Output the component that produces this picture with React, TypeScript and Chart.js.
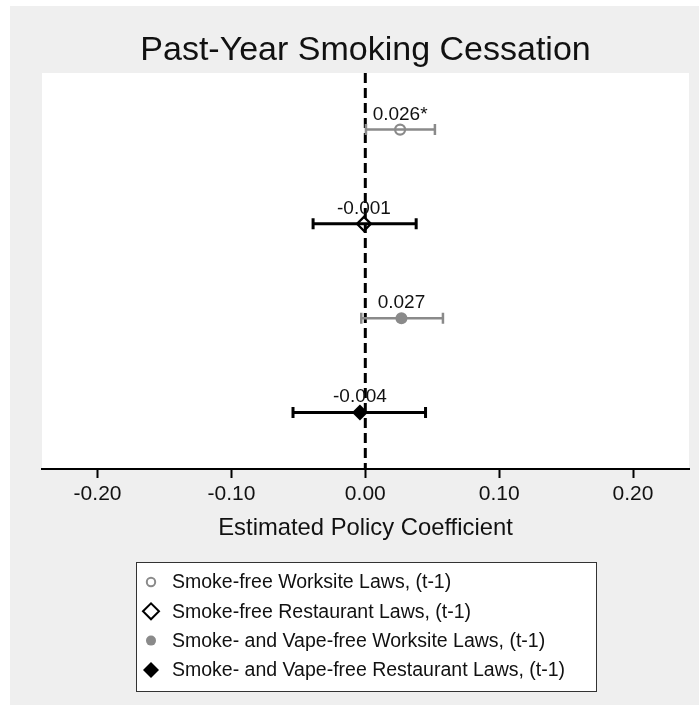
import { useEffect, useRef } from "react";
import { Chart, registerables } from "chart.js";

Chart.register(...registerables);

const TITLE = "Past-Year Smoking Cessation";
const X_TITLE = "Estimated Policy Coefficient";
const SERIES = [
  "Smoke-free Worksite Laws, (t-1)",
  "Smoke-free Restaurant Laws, (t-1)",
  "Smoke- and Vape-free Worksite Laws, (t-1)",
  "Smoke- and Vape-free Restaurant Laws, (t-1)",
];
const ROWS = [1, 2, 3, 4];
const ESTIMATES = [0.026, -0.001, 0.027, -0.004];
const CI_LOW = [0.0005, -0.039, -0.003, -0.054];
const CI_HIGH = [0.052, 0.038, 0.058, 0.045];
const POINT_LABELS = ["0.026*", "-0.001", "0.027", "-0.004"];
const X_TICKS = [-0.2, -0.1, 0, 0.1, 0.2];

const GRAY = "#8a8a8a";
const COLORS = [GRAY, "#000000", GRAY, "#000000"];
const SHAPES = ["circle", "rectRot", "circle", "rectRot"];
const FILLED = [false, false, true, true];
const RADII = [5, 7, 6, 8];
const FONT = "'Liberation Sans', Arial, Helvetica, sans-serif";

function drawMarker(ctx: CanvasRenderingContext2D, i: number, x: number, y: number, r: number) {
  ctx.save();
  ctx.beginPath();
  if (SHAPES[i] === "circle") {
    ctx.arc(x, y, r, 0, Math.PI * 2);
  } else {
    ctx.moveTo(x - r, y);
    ctx.lineTo(x, y - r);
    ctx.lineTo(x + r, y);
    ctx.lineTo(x, y + r);
    ctx.closePath();
  }
  if (FILLED[i]) {
    ctx.fillStyle = COLORS[i];
    ctx.fill();
  } else {
    ctx.lineWidth = 2;
    ctx.strokeStyle = COLORS[i];
    ctx.stroke();
  }
  ctx.restore();
}

const coefPlugin = {
  id: "coefPlugin",
  beforeDraw(chart: any) {
    const { ctx, chartArea } = chart;
    ctx.save();
    ctx.fillStyle = "#ffffff";
    ctx.fillRect(chartArea.left, chartArea.top, chartArea.right - chartArea.left, chartArea.bottom - chartArea.top);
    ctx.restore();
  },
  beforeDatasetsDraw(chart: any) {
    const { ctx, chartArea, scales } = chart;
    const xs = scales.x;
    const ys = scales.y;
    const x0 = xs.getPixelForValue(0);
    ctx.save();
    ctx.strokeStyle = "#000";
    ctx.lineWidth = 3;
    ctx.setLineDash([10, 5]);
    ctx.beginPath();
    ctx.moveTo(x0, chartArea.top);
    ctx.lineTo(x0, chartArea.bottom);
    ctx.stroke();
    ctx.setLineDash([]);
    ROWS.forEach((row, i) => {
      const y = ys.getPixelForValue(row);
      const xl = xs.getPixelForValue(CI_LOW[i]);
      const xh = xs.getPixelForValue(CI_HIGH[i]);
      ctx.strokeStyle = COLORS[i];
      ctx.lineWidth = COLORS[i] === GRAY ? 2.5 : 3;
      ctx.beginPath();
      ctx.moveTo(xl, y);
      ctx.lineTo(xh, y);
      ctx.moveTo(xl, y - 5.5);
      ctx.lineTo(xl, y + 5.5);
      ctx.moveTo(xh, y - 5.5);
      ctx.lineTo(xh, y + 5.5);
      ctx.stroke();
    });
    ctx.restore();
  },
  afterDatasetsDraw(chart: any) {
    const { ctx, scales } = chart;
    ctx.save();
    ctx.fillStyle = "#111";
    ctx.font = `19px ${FONT}`;
    ctx.textAlign = "center";
    ctx.textBaseline = "alphabetic";
    ROWS.forEach((row, i) => {
      const x = scales.x.getPixelForValue(ESTIMATES[i]);
      const y = scales.y.getPixelForValue(row);
      ctx.fillText(POINT_LABELS[i], x, y - 10);
    });
    ctx.restore();
  },
  afterDraw(chart: any) {
    const { ctx } = chart;
    const left = 126.5, top = 556.5, w = 460, h = 129;
    ctx.save();
    ctx.fillStyle = "#fff";
    ctx.fillRect(left, top, w, h);
    ctx.strokeStyle = "#333";
    ctx.lineWidth = 1;
    ctx.strokeRect(left, top, w, h);
    ctx.font = `19.5px ${FONT}`;
    ctx.textAlign = "left";
    ctx.textBaseline = "middle";
    const legR = [4.2, 8, 5, 8];
    SERIES.forEach((s, i) => {
      const y = 576 + i * 29.3;
      drawMarker(ctx, i, 141, y, legR[i]);
      ctx.fillStyle = "#111";
      ctx.fillText(s, 162, y + 1);
    });
    ctx.restore();
  },
};

export default function App() {
  const ref = useRef<HTMLCanvasElement | null>(null);
  useEffect(() => {
    if (!ref.current) return;
    const chart = new Chart(ref.current, {
      type: "scatter",
      data: {
        datasets: SERIES.map((s, i) => ({
          label: s,
          data: [{ x: ESTIMATES[i], y: ROWS[i] }],
          pointStyle: SHAPES[i] as any,
          pointRadius: RADII[i],
          pointHoverRadius: RADII[i],
          backgroundColor: FILLED[i] ? COLORS[i] : "rgba(0,0,0,0)",
          borderColor: COLORS[i],
          pointBorderWidth: FILLED[i] ? 0 : 2.2,
        })),
      },
      options: {
        responsive: false,
        animation: false,
        layout: { padding: { left: 32, right: 10, top: 0, bottom: 0 } },
        plugins: {
          legend: { display: false },
          tooltip: { enabled: false },
          title: {
            display: true,
            text: TITLE,
            color: "#111",
            font: { family: FONT, size: 34, weight: "normal" },
            padding: { top: 24, bottom: 2.2 },
          },
        },
        scales: {
          x: {
            type: "linear",
            min: -0.2415,
            max: 0.2418,
            afterBuildTicks: (scale: any) => {
              scale.ticks = X_TICKS.map((v) => ({ value: v }));
            },
            afterFit: (scale: any) => {
              scale.height = 236;
            },
            ticks: {
              color: "#111",
              font: { family: FONT, size: 21 },
              padding: 4,
              callback: (v: any) => Number(v).toFixed(2),
            },
            grid: {
              drawOnChartArea: false,
              drawTicks: true,
              tickLength: 9,
              tickWidth: 2,
              tickColor: "#000",
            },
            border: { display: true, color: "#000", width: 2 },
            title: {
              display: true,
              text: X_TITLE,
              color: "#111",
              font: { family: FONT, size: 23.8 },
              padding: { top: 0, bottom: 162 },
            },
          },
          y: {
            type: "linear",
            display: false,
            min: 0.4,
            max: 4.6,
            reverse: true,
          },
        },
      },
      plugins: [coefPlugin],
    });
    return () => chart.destroy();
  }, []);
  return (
    <div style={{ position: "absolute", left: 0, top: 0, width: 699, height: 705, background: "#fff" }}>
      <div style={{ position: "absolute", left: 10, top: 6, width: 689, height: 699, background: "#efefef" }}>
        <canvas ref={ref} width={689} height={699} style={{ display: "block" }} />
      </div>
    </div>
  );
}
